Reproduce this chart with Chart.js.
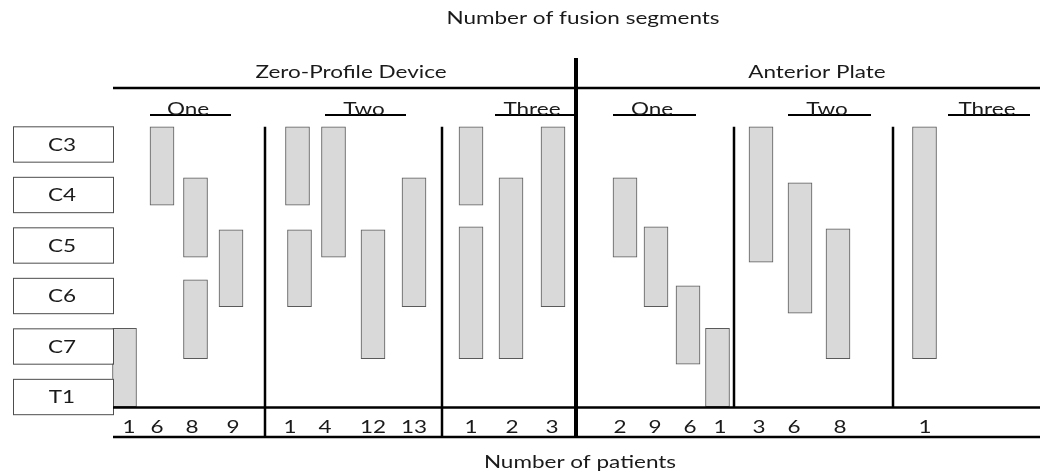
<!DOCTYPE html>
<html>
<head>
<meta charset="utf-8">
<script src="https://cdn.jsdelivr.net/npm/chart.js@4.4.1/dist/chart.umd.min.js"></script>
<style>
  html, body { margin: 0; padding: 0; background: #fff; }
  #wrap { width: 1048px; height: 475px; position: relative; }
</style>
</head>
<body>
<div id="wrap"><canvas id="chart"></canvas></div>
<script>
// vertebral levels, top to bottom (y axis: 0 = C3 ... 5 = T1)
const levels = ['C3', 'C4', 'C5', 'C6', 'C7', 'T1'];

// one entry per fused span: column across the figure, upper and lower level
const barX      = [124.5, 162, 195.5, 195.5, 231,   297.5, 299.5, 333.5, 373, 414,   471, 471, 511, 553,   625, 656, 688, 717.5,   761, 800, 838,   924.5];
const barTop    = [3.65, -0.34, 0.67, 2.69, 1.70,   -0.34, 1.70, -0.34, 1.70, 0.67,   -0.34, 1.64, 0.67, -0.34,   0.67, 1.64, 2.81, 3.65,   -0.34, 0.77, 1.68,   -0.34];
const barBottom = [5.20, 1.21, 2.24, 4.25, 3.22,    1.21, 3.22, 2.24, 4.25, 3.22,    1.21, 4.25, 4.25, 3.22,    2.24, 3.22, 4.36, 5.20,    2.34, 3.35, 4.25,    4.25];

// number of patients under each column
const patients  = ['1', '6', '8', '9',   '1', '4', '12', '13',   '1', '2', '3',   '2', '9', '6', '1',   '3', '6', '8',   '1'];
const patientX  = [129, 157, 192, 233,   290, 325, 373, 414,     471, 512, 552,   620, 655, 690, 720,   759, 794, 840,   925];

const devices   = ['Zero-Profile Device', 'Anterior Plate'];
const deviceX   = [351, 817];
const segments  = ['One', 'Two', 'Three', 'One', 'Two', 'Three'];
const segmentX  = [188, 364, 532, 652, 827, 987];

const FONT = "18px Lato, 'Open Sans', sans-serif";
const STRETCH = 1.25;   // the original lettering is set wide
const INK  = '#1a1a1a';

// Everything that is not a bar: level boxes, headers, rules and counts
const framePlugin = {
  id: 'frame',
  afterDatasetsDraw(chart) {
    const { ctx, scales: { x, y } } = chart;
    const X = v => x.getPixelForValue(v);
    const Y = v => y.getPixelForValue(v);
    const rule = (x0, y0, x1, y1, w) => {
      ctx.lineWidth = w;
      ctx.beginPath();
      ctx.moveTo(X(x0), Y(y0));
      ctx.lineTo(X(x1), Y(y1));
      ctx.stroke();
    };
    const say = (txt, px, py, base) => {
      ctx.save();
      ctx.translate(px, py);
      ctx.scale(STRETCH, 1);
      ctx.font = FONT;
      ctx.fillStyle = INK;
      ctx.textAlign = 'center';
      ctx.textBaseline = base || 'middle';
      ctx.fillText(txt, 0, 0);
      ctx.restore();
    };

    ctx.save();

    // level boxes
    levels.forEach((lv, i) => {
      const l = X(13), r = X(113), t = Y(i - 0.35), b = Y(i + 0.35);
      ctx.fillStyle = '#fff';
      ctx.fillRect(l, t, r - l, b - t);
      ctx.strokeStyle = '#4d4d4d';
      ctx.lineWidth = 1;
      ctx.strokeRect(l + 0.5, t + 0.5, r - l, b - t);
      say(lv, X(62), (t + b) / 2 + 1);
    });

    ctx.strokeStyle = '#000';
    // header rule and bottom rules
    rule(113, -1.109, 1040, -1.109, 2.5);
    rule(113, 5.218, 1040, 5.218, 2.5);
    rule(113, 5.802, 1040, 5.802, 2.5);
    // column dividers
    [265, 442].forEach(v => rule(v, -0.34, v, 5.802, 2.5));
    [734, 893].forEach(v => rule(v, -0.34, v, 5.218, 2.5));
    rule(576, -1.703, 576, 5.802, 4);

    // segment underlines
    [[150, 231], [325, 406], [495, 576], [613, 696], [788, 871], [948, 1030]]
      .forEach(([a, b]) => rule(a, -0.574, b, -0.574, 2));

    say('Number of fusion segments', X(583), Y(-2.495));
    say('Number of patients', X(580), Y(6.297));
    devices.forEach((d, i) => say(d, X(deviceX[i]), Y(-1.426)));
    segments.forEach((s, i) => say(s, X(segmentX[i]), Y(-0.58), 'alphabetic'));
    patients.forEach((p, i) => say(p, X(patientX[i]), Y(5.604)));

    ctx.restore();
  }
};

new Chart(document.getElementById('chart'), {
  type: 'bar',
  data: {
    datasets: [{
      data: barX.map((v, i) => ({ x: v, y: [barTop[i], barBottom[i]] })),
      backgroundColor: '#d9d9d9',
      borderColor: '#5a5a5a',
      borderWidth: 1,
      borderSkipped: false,
      barThickness: 24
    }]
  },
  options: {
    responsive: true,
    maintainAspectRatio: false,
    animation: false,
    layout: { padding: 0 },
    plugins: { legend: { display: false }, tooltip: { enabled: false } },
    scales: {
      x: { type: 'linear', min: 0, max: 1048, offset: false, display: false },
      y: { type: 'linear', min: -2.851, max: 6.554, reverse: true, display: false }
    }
  },
  plugins: [framePlugin]
});
</script>
</body>
</html>
